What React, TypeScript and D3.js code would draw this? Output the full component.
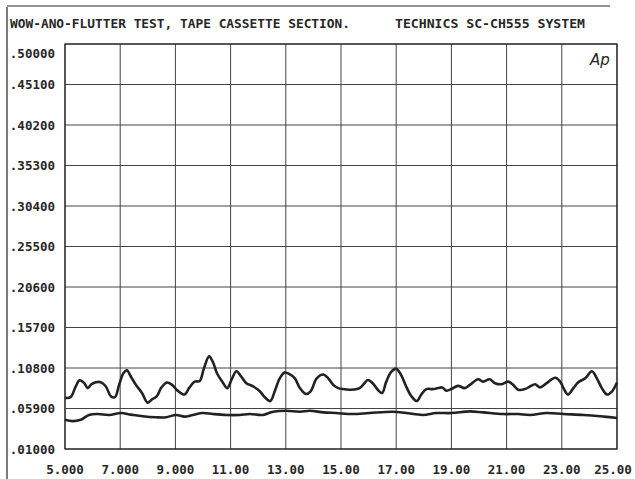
import React, { useEffect, useRef } from 'react';
import * as d3 from 'd3';

// tick labels as printed on the plot
const yTicks = [0.5, 0.451, 0.402, 0.353, 0.304, 0.255, 0.206, 0.157, 0.108, 0.059, 0.01];
const yTickLabels = ['.50000', '.45100', '.40200', '.35300', '.30400', '.25500', '.20600', '.15700', '.10800', '.05900', '.01000'];
const xTicks = [5, 7, 9, 11, 13, 15, 17, 19, 21, 23, 25];
const xTickLabels = ['5.000', '7.000', '9.000', '11.00', '13.00', '15.00', '17.00', '19.00', '21.00', '23.00', '25.00'];

// upper trace (peak) - time, level
const peakTime = [5.0, 5.2, 5.39, 5.53, 5.7, 5.82, 5.96, 6.12, 6.3, 6.48, 6.66, 6.81, 6.96, 7.11, 7.24, 7.39, 7.57, 7.79, 7.99, 8.15, 8.33, 8.48, 8.69, 8.88, 9.08, 9.33, 9.51, 9.7, 9.88, 10.03, 10.22, 10.36, 10.51, 10.7, 10.88, 11.03, 11.21, 11.39, 11.57, 11.82, 12.06, 12.26, 12.44, 12.6, 12.78, 12.96, 13.15, 13.33, 13.51, 13.73, 13.9, 14.12, 14.36, 14.54, 14.72, 14.9, 15.06, 15.36, 15.67, 15.85, 15.97, 16.15, 16.33, 16.49, 16.64, 16.82, 17.0, 17.18, 17.36, 17.55, 17.75, 17.91, 18.09, 18.33, 18.52, 18.67, 18.82, 19.0, 19.24, 19.48, 19.67, 19.97, 20.15, 20.39, 20.58, 20.82, 21.06, 21.24, 21.42, 21.67, 21.85, 22.03, 22.21, 22.45, 22.76, 22.94, 23.06, 23.22, 23.42, 23.6, 23.85, 24.09, 24.27, 24.45, 24.64, 24.82, 25.0];
const peakLevel = [0.0719, 0.0727, 0.0857, 0.0931, 0.0896, 0.0837, 0.0884, 0.0908, 0.0908, 0.0857, 0.0739, 0.0727, 0.0876, 0.1013, 0.1053, 0.0974, 0.0876, 0.0778, 0.0661, 0.07, 0.0739, 0.0837, 0.0904, 0.0876, 0.0806, 0.0759, 0.0845, 0.0915, 0.0923, 0.1072, 0.1221, 0.1151, 0.1013, 0.0915, 0.0837, 0.0935, 0.1041, 0.0974, 0.0896, 0.0857, 0.0798, 0.0719, 0.068, 0.0798, 0.0955, 0.1025, 0.1002, 0.0955, 0.0837, 0.0766, 0.0798, 0.0955, 0.1002, 0.0955, 0.0876, 0.0837, 0.0825, 0.0817, 0.0837, 0.0896, 0.0935, 0.0896, 0.0817, 0.0778, 0.0915, 0.1033, 0.1072, 0.0994, 0.0857, 0.0739, 0.068, 0.0759, 0.0825, 0.0825, 0.0837, 0.0845, 0.0806, 0.0825, 0.0864, 0.0837, 0.0876, 0.0943, 0.0915, 0.0943, 0.0896, 0.0884, 0.0915, 0.0876, 0.0817, 0.0825, 0.0857, 0.0884, 0.0845, 0.0896, 0.0962, 0.0915, 0.0837, 0.0759, 0.0837, 0.0908, 0.0955, 0.1041, 0.0955, 0.0837, 0.0759, 0.0798, 0.0905];

// lower trace (weighted)
const wtdTime = [5.0, 5.27, 5.57, 5.87, 6.18, 6.6, 7.02, 7.39, 7.82, 8.3, 8.66, 9.02, 9.33, 9.63, 9.99, 10.36, 10.84, 11.33, 11.69, 12.17, 12.54, 13.02, 13.51, 13.87, 14.36, 14.82, 15.42, 16.03, 16.88, 17.36, 17.97, 18.45, 19.0, 19.67, 20.15, 20.88, 21.42, 21.85, 22.45, 23.06, 23.79, 24.52, 25.0];
const wtdLevel = [0.0453, 0.0437, 0.0453, 0.0512, 0.0523, 0.0512, 0.0535, 0.0516, 0.0496, 0.0484, 0.0484, 0.0512, 0.0492, 0.0512, 0.0535, 0.0523, 0.0512, 0.0512, 0.0523, 0.0512, 0.0551, 0.0563, 0.0551, 0.0563, 0.0543, 0.0535, 0.0523, 0.0535, 0.0551, 0.0535, 0.0512, 0.0535, 0.0535, 0.0555, 0.0543, 0.0523, 0.0523, 0.0512, 0.0535, 0.0523, 0.0512, 0.0492, 0.0476];

const W = 635;
const H = 479;
const FONT = '"DejaVu Sans Mono", monospace';
const INK = '#262626';

export default function App() {
  const svgRef = useRef<SVGSVGElement>(null);

  useEffect(() => {
    const svg = d3.select(svgRef.current);
    svg.selectAll('*').remove();

    const left = 65, right = 617, top = 44, bottom = 449;

    const x = d3.scaleLinear().domain([5, 25]).range([left, right]);
    const y = d3.scaleLinear().domain([0.01, 0.5]).range([bottom, top]);

    svg.append('rect').attr('width', W).attr('height', H).attr('fill', '#fff');

    // outer frame remnants
    svg.append('line').attr('x1', 7).attr('x2', 7).attr('y1', 7).attr('y2', H)
      .attr('stroke', INK).attr('stroke-width', 1.2);
    svg.append('line').attr('x1', 7).attr('x2', 610).attr('y1', 6).attr('y2', 6)
      .attr('stroke', INK).attr('stroke-width', 1.2);

    // title
    svg.append('text').attr('x', 10).attr('y', 28)
      .attr('textLength', 340).attr('lengthAdjust', 'spacingAndGlyphs')
      .style('font-family', FONT).style('font-size', '12.5px').style('font-weight', 'bold')
      .attr('fill', INK).text('WOW-ANO-FLUTTER TEST,  TAPE CASSETTE SECTION.');
    svg.append('text').attr('x', 395).attr('y', 28)
      .attr('textLength', 190).attr('lengthAdjust', 'spacingAndGlyphs')
      .style('font-family', FONT).style('font-size', '12.5px').style('font-weight', 'bold')
      .attr('fill', INK).text('TECHNICS SC-CH555 SYSTEM');

    // grid
    const g = svg.append('g');
    g.selectAll('.hgrid').data(yTicks).enter().append('line')
      .attr('x1', left).attr('x2', right)
      .attr('y1', d => y(d)).attr('y2', d => y(d))
      .attr('stroke', '#444').attr('stroke-width', 1);
    g.selectAll('.vgrid').data(xTicks).enter().append('line')
      .attr('x1', d => x(d)).attr('x2', d => x(d))
      .attr('y1', top).attr('y2', bottom)
      .attr('stroke', '#444').attr('stroke-width', 1);
    g.append('rect').attr('x', left).attr('y', top)
      .attr('width', right - left).attr('height', bottom - top)
      .attr('fill', 'none').attr('stroke', INK).attr('stroke-width', 1.2);

    // y labels
    g.selectAll('.ylab').data(yTicks).enter().append('text')
      .attr('x', 55)
      .attr('y', (d, i) => y(d) + (i === 0 ? 9 : 0))
      .attr('dy', '0.36em')
      .attr('text-anchor', 'end')
      .style('font-family', FONT).style('font-size', '12.5px').style('font-weight', 'bold')
      .attr('fill', INK)
      .text((d, i) => yTickLabels[i]);

    // x labels
    g.selectAll('.xlab').data(xTicks).enter().append('text')
      .attr('x', (d, i) => x(d) - (i === xTicks.length - 1 ? 4 : 0))
      .attr('y', 474)
      .attr('text-anchor', 'middle')
      .style('font-family', FONT).style('font-size', '12.5px').style('font-weight', 'bold')
      .attr('fill', INK)
      .text((d, i) => xTickLabels[i]);

    // logo
    svg.append('text').attr('x', 600).attr('y', 65).attr('text-anchor', 'middle')
      .style('font-family', '"DejaVu Sans", sans-serif').style('font-size', '15px')
      .style('font-style', 'italic').attr('fill', INK).text('Ap');

    // traces
    const line = d3.line<number>()
      .x((d, i) => x(d))
      .curve(d3.curveCatmullRom.alpha(0.5));

    svg.append('path')
      .attr('d', line.y((d, i) => y(peakLevel[i]))(peakTime))
      .attr('fill', 'none').attr('stroke', '#222').attr('stroke-width', 2.6)
      .attr('stroke-linejoin', 'round');

    svg.append('path')
      .attr('d', line.y((d, i) => y(wtdLevel[i]))(wtdTime))
      .attr('fill', 'none').attr('stroke', '#222').attr('stroke-width', 2.6)
      .attr('stroke-linejoin', 'round');
  }, []);

  return (
    <svg ref={svgRef} width={W} height={H}
      style={{ position: 'absolute', left: 0, top: 0, display: 'block' }} />
  );
}
